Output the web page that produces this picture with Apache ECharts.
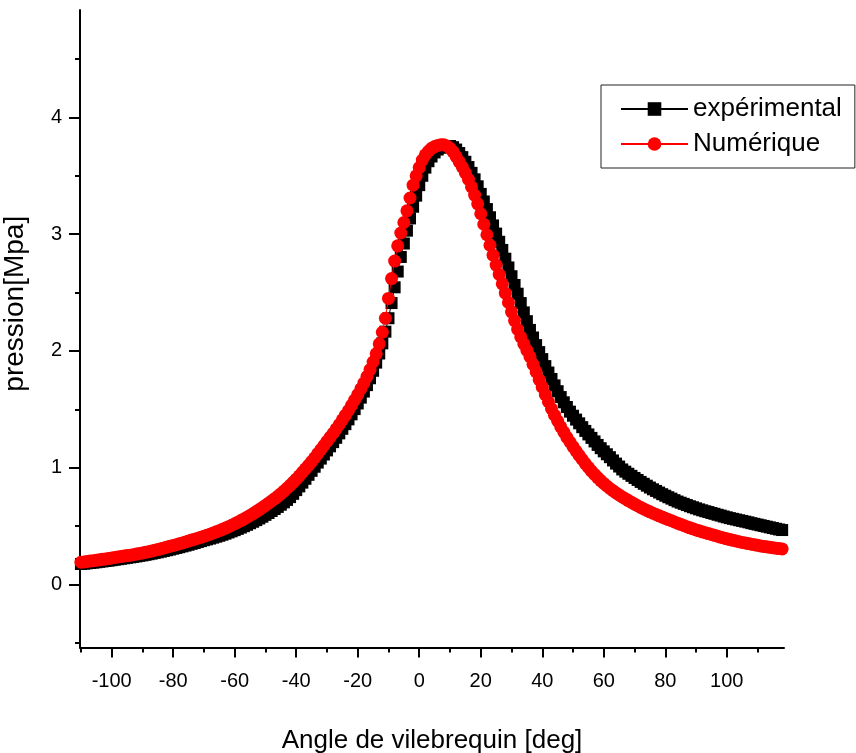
<!DOCTYPE html>
<html>
<head>
<meta charset="utf-8">
<script src="https://cdn.jsdelivr.net/npm/echarts@6/dist/echarts.min.js"></script>
<style>html,body{margin:0;padding:0;background:#fff;}#chart{width:856px;height:753px;}</style>
</head>
<body>
<div id="chart"></div>
<script>
// Crank angle (deg)
const angles = [
  -110,-109,-108,-107,-106,-105,-104,-103,-102,-101,-100,-99,-98,-97,-96,-95,-94,-93,-92,-91,
  -90,-89,-88,-87,-86,-85,-84,-83,-82,-81,-80,-79,-78,-77,-76,-75,-74,-73,-72,-71,
  -70,-69,-68,-67,-66,-65,-64,-63,-62,-61,-60,-59,-58,-57,-56,-55,-54,-53,-52,-51,
  -50,-49,-48,-47,-46,-45,-44,-43,-42,-41,-40,-39,-38,-37,-36,-35,-34,-33,-32,-31,
  -30,-29,-28,-27,-26,-25,-24,-23,-22,-21,-20,-19,-18,-17,-16,-15,-14,-13,-12,-11,
  -10,-9,-8,-7,-6,-5,-4,-3,-2,-1,0,1,2,3,4,5,6,7,8,9,
  10,11,12,13,14,15,16,17,18,19,20,21,22,23,24,25,26,27,28,29,
  30,31,32,33,34,35,36,37,38,39,40,41,42,43,44,45,46,47,48,49,
  50,51,52,53,54,55,56,57,58,59,60,61,62,63,64,65,66,67,68,69,
  70,71,72,73,74,75,76,77,78,79,80,81,82,83,84,85,86,87,88,89,
  90,91,92,93,94,95,96,97,98,99,100,101,102,103,104,105,106,107,108,109,
  110,111,112,113,114,115,116,117,118,119,120
];
// Experimental pressure (MPa)
const experimental = [
  0.175,0.178,0.181,0.184,0.187,0.190,0.194,0.197,0.201,0.204,0.208,0.212,0.216,0.220,0.224,0.228,0.232,0.236,0.240,0.245,
  0.249,0.254,0.259,0.264,0.270,0.275,0.281,0.287,0.293,0.299,0.306,0.312,0.319,0.326,0.333,0.340,0.348,0.355,0.363,0.371,
  0.379,0.386,0.393,0.401,0.409,0.417,0.426,0.435,0.445,0.455,0.465,0.476,0.487,0.499,0.511,0.524,0.537,0.551,0.565,0.580,
  0.596,0.612,0.629,0.646,0.664,0.683,0.703,0.724,0.748,0.776,0.808,0.840,0.872,0.905,0.939,0.973,1.008,1.044,1.078,1.113,
  1.148,1.183,1.219,1.256,1.294,1.333,1.373,1.414,1.457,1.502,1.550,1.600,1.652,1.707,1.766,1.830,1.900,1.978,2.065,2.165,
  2.280,2.410,2.545,2.680,2.805,2.920,3.030,3.135,3.235,3.330,3.420,3.500,3.570,3.625,3.665,3.700,3.725,3.740,3.750,3.755,
  3.755,3.745,3.725,3.695,3.660,3.620,3.575,3.525,3.470,3.410,3.345,3.280,3.215,3.145,3.075,3.005,2.935,2.865,2.790,2.715,
  2.640,2.565,2.490,2.410,2.330,2.255,2.180,2.115,2.050,1.990,1.930,1.870,1.815,1.760,1.705,1.655,1.605,1.560,1.520,1.480,
  1.445,1.412,1.380,1.347,1.315,1.285,1.255,1.225,1.195,1.167,1.140,1.115,1.090,1.062,1.035,1.010,0.985,0.966,0.948,0.930,
  0.912,0.895,0.878,0.862,0.846,0.830,0.815,0.801,0.787,0.773,0.760,0.747,0.735,0.722,0.710,0.700,0.690,0.680,0.670,0.661,
  0.652,0.643,0.635,0.627,0.620,0.612,0.605,0.597,0.590,0.582,0.575,0.568,0.562,0.556,0.550,0.544,0.538,0.532,0.525,0.519,
  0.513,0.507,0.501,0.495,0.489,0.483,0.477,0.471,0.466,0.461,0.456
];
// Numerical pressure (MPa)
const numerique = [
  0.190,0.193,0.197,0.200,0.204,0.207,0.211,0.215,0.219,0.223,0.227,0.231,0.235,0.239,0.243,0.247,0.251,0.255,0.260,0.265,
  0.270,0.275,0.281,0.287,0.293,0.299,0.306,0.313,0.320,0.327,0.334,0.341,0.349,0.356,0.364,0.372,0.380,0.388,0.396,0.404,
  0.413,0.422,0.431,0.441,0.451,0.461,0.472,0.483,0.495,0.507,0.520,0.533,0.547,0.561,0.576,0.591,0.607,0.624,0.641,0.659,
  0.677,0.696,0.715,0.735,0.755,0.777,0.800,0.824,0.849,0.875,0.902,0.930,0.960,0.990,1.020,1.052,1.085,1.120,1.155,1.190,
  1.225,1.260,1.295,1.332,1.370,1.410,1.450,1.490,1.535,1.580,1.625,1.675,1.725,1.780,1.840,1.905,1.975,2.060,2.160,2.280,
  2.450,2.620,2.770,2.900,3.010,3.100,3.200,3.310,3.420,3.500,3.570,3.635,3.680,3.710,3.735,3.750,3.760,3.765,3.765,3.755,
  3.735,3.705,3.665,3.620,3.575,3.525,3.470,3.405,3.335,3.260,3.175,3.085,2.995,2.905,2.820,2.735,2.655,2.575,2.495,2.415,
  2.335,2.260,2.185,2.120,2.060,2.005,1.950,1.885,1.820,1.755,1.690,1.625,1.565,1.505,1.450,1.400,1.350,1.305,1.260,1.220,
  1.180,1.142,1.105,1.070,1.035,1.002,0.970,0.942,0.915,0.890,0.865,0.843,0.822,0.803,0.784,0.767,0.750,0.734,0.718,0.703,
  0.688,0.674,0.660,0.647,0.634,0.622,0.610,0.599,0.588,0.577,0.566,0.556,0.546,0.535,0.525,0.515,0.505,0.495,0.485,0.476,
  0.467,0.459,0.451,0.443,0.436,0.428,0.421,0.413,0.405,0.398,0.391,0.384,0.378,0.372,0.366,0.360,0.355,0.350,0.345,0.340,
  0.335,0.330,0.326,0.322,0.318,0.314,0.311,0.307,0.304,0.301,0.298
];
const xMajorTicks = [-100,-80,-60,-40,-20,0,20,40,60,80,100];
const xMinorTicks = [-110,-90,-70,-50,-30,-10,10,30,50,70,90,110];
const yMajorTicks = [0,1,2,3,4];
const yMinorTicks = [-0.5,0.5,1.5,2.5,3.5,4.5];

const FONT = 'Liberation Sans, Arial, Helvetica, sans-serif';
const X_MIN = -110.3, X_MAX = 118.6, Y_MIN = -0.54, Y_MAX = 4.92;

const chart = echarts.init(document.getElementById('chart'), null, {renderer: 'canvas'});
const expData = angles.map((a, i) => [a, experimental[i]]);
const numData = angles.map((a, i) => [a, numerique[i]]);

chart.setOption({
  animation: false,
  backgroundColor: '#fff',
  grid: {left: 80, right: 72, top: 10, bottom: 105.5, containLabel: false, outerBoundsMode: 'none'},
  legend: {
    left: 601, top: 85, orient: 'vertical',
    borderColor: '#222', borderWidth: 1,
    padding: [11, 13, 11, 19],
    itemWidth: 67, itemHeight: 17, itemGap: 9,
    textStyle: {fontSize: 26, fontFamily: FONT, color: '#000'},
    data: ['expérimental', 'Numérique']
  },
  xAxis: [{
    type: 'value', min: X_MIN, max: X_MAX,
    name: 'Angle de vilebrequin [deg]', nameLocation: 'middle', nameGap: 80,
    nameTextStyle: {fontSize: 26, fontFamily: FONT, color: '#000'},
    axisLine: {show: true, onZero: false, lineStyle: {color: '#000', width: 2}},
    axisTick: {show: true, customValues: xMajorTicks, length: 10, lineStyle: {color: '#000', width: 2}},
    axisLabel: {show: true, customValues: xMajorTicks, margin: 24, fontSize: 20, fontFamily: FONT, color: '#000'},
    splitLine: {show: false}
  }, {
    type: 'value', min: X_MIN, max: X_MAX, position: 'bottom',
    axisLine: {show: false, onZero: false},
    axisTick: {show: true, customValues: xMinorTicks, length: 5, lineStyle: {color: '#000', width: 2}},
    axisLabel: {show: false},
    splitLine: {show: false}
  }],
  yAxis: [{
    type: 'value', min: Y_MIN, max: Y_MAX,
    name: 'pression[Mpa]', nameLocation: 'middle', nameGap: 51, nameRotate: 90,
    nameTextStyle: {fontSize: 28, fontFamily: FONT, color: '#000', padding: [0, 0, 0, 50]},
    axisLine: {show: true, onZero: false, lineStyle: {color: '#000', width: 2}},
    axisTick: {show: true, customValues: yMajorTicks, length: 11, lineStyle: {color: '#000', width: 2}},
    axisLabel: {show: true, customValues: yMajorTicks, margin: 18, fontSize: 20, fontFamily: FONT, color: '#000'},
    splitLine: {show: false}
  }, {
    type: 'value', min: Y_MIN, max: Y_MAX, position: 'left',
    axisLine: {show: false, onZero: false},
    axisTick: {show: true, customValues: yMinorTicks, length: 5, lineStyle: {color: '#000', width: 2}},
    axisLabel: {show: false},
    splitLine: {show: false}
  }],
  series: [{
    name: 'expérimental', type: 'line', xAxisIndex: 0, yAxisIndex: 0,
    data: expData, symbol: 'rect', symbolSize: 12, showSymbol: true, showAllSymbol: true,
    itemStyle: {color: '#000'}, lineStyle: {color: '#000', width: 1}, clip: true, z: 2
  }, {
    name: 'Numérique', type: 'line', xAxisIndex: 0, yAxisIndex: 0,
    data: numData, symbol: 'circle', symbolSize: 13, showSymbol: true, showAllSymbol: true,
    itemStyle: {color: '#ff0000'}, lineStyle: {color: '#ff0000', width: 1}, clip: true, z: 3
  }]
});
</script>
</body>
</html>
